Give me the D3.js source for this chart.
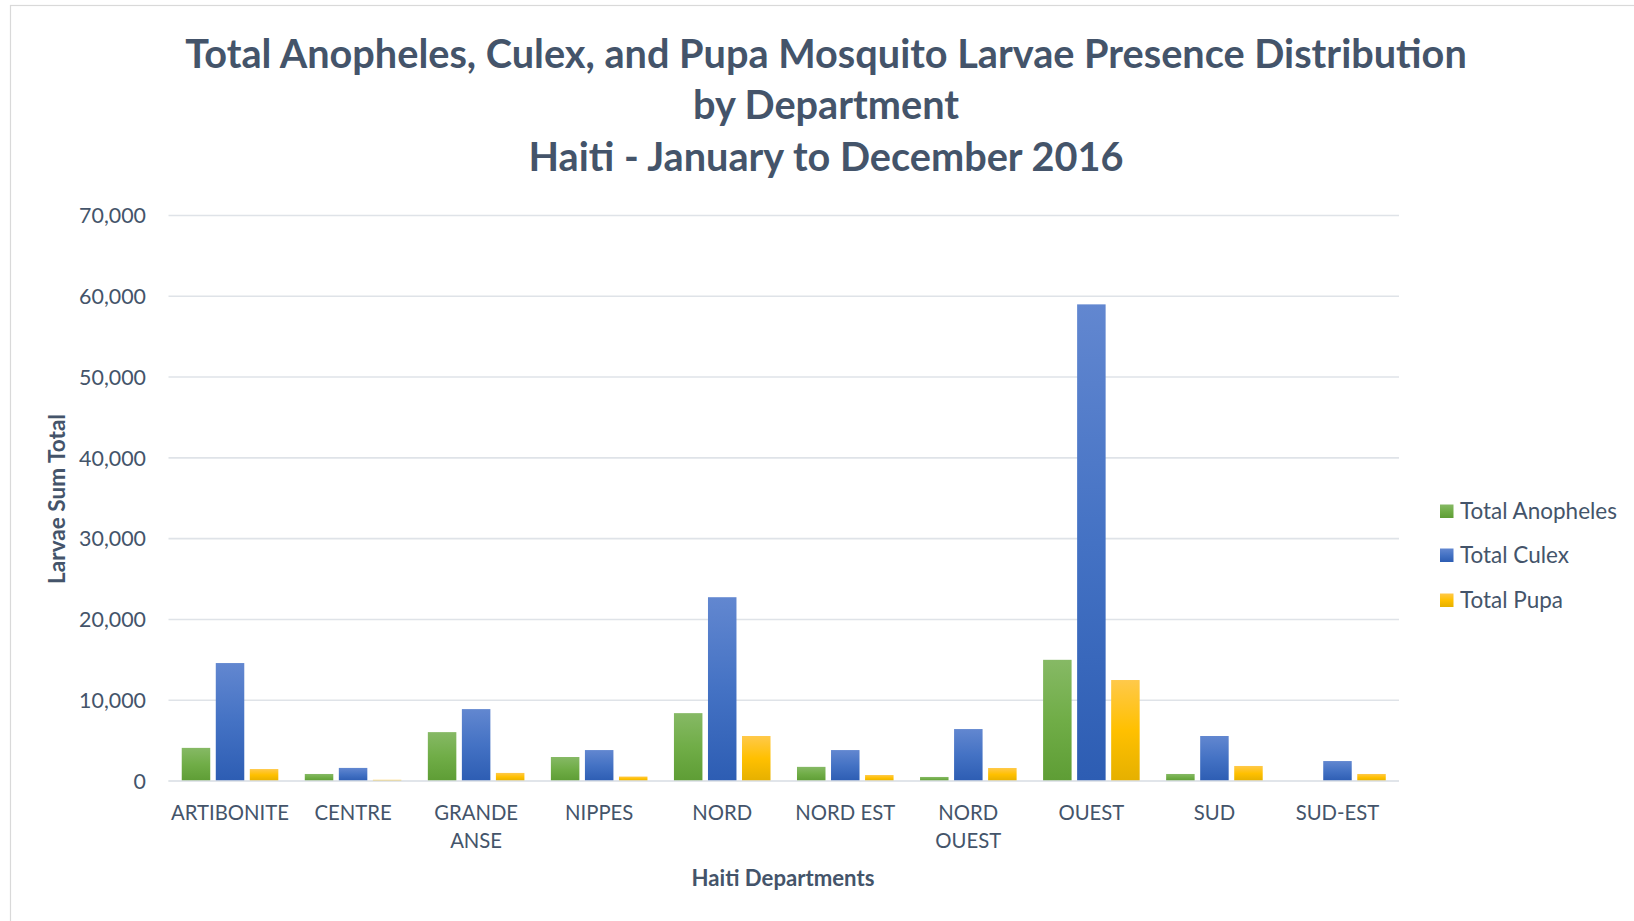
<!DOCTYPE html>
<html>
<head>
<meta charset="utf-8">
<script src="https://cdn.jsdelivr.net/npm/d3@7/dist/d3.min.js"></script>
<style>
  html, body { margin: 0; padding: 0; background: #fff; }
  svg { display: block; }
</style>
</head>
<body>
<svg id="chart" width="1634" height="921"></svg>
<script>
const categories = ["ARTIBONITE", "CENTRE", "GRANDE ANSE", "NIPPES", "NORD", "NORD EST", "NORD OUEST", "OUEST", "SUD", "SUD-EST"];
const seriesNames = ["Total Anopheles", "Total Culex", "Total Pupa"];
const anopheles = [4100, 870, 6050, 2970, 8400, 1750, 500, 15000, 870, 0];
const culex = [14600, 1620, 8900, 3830, 22750, 3830, 6430, 59000, 5570, 2470];
const pupa = [1480, 150, 1000, 550, 5570, 740, 1610, 12500, 1860, 870];
const yTicks = [0, 10000, 20000, 30000, 40000, 50000, 60000, 70000];
const titleLines = ["Total Anopheles, Culex, and Pupa Mosquito Larvae Presence Distribution", "by Department", "Haiti - January to December 2016"];

const seriesValues = [anopheles, culex, pupa];
const gradStops = [
  ["#86b965", "#70ad47", "#5e9d35"],
  ["#6287d0", "#4472c4", "#2d5db3"],
  ["#ffc94a", "#ffc000", "#e5b000"]
];
const FONT = "Lato, 'Open Sans', sans-serif";
const TEXT = "#44546A";

const svg = d3.select("#chart");
const W = 1634, H = 921;
const margin = {left: 168.5, right: 1399, top: 215.5, bottom: 781};

// border
svg.append("rect").attr("x", 10.5).attr("y", 5.5).attr("width", 1640).attr("height", 930)
  .attr("fill", "#fff").attr("stroke", "#d9d9d9").attr("stroke-width", 1.2);

// gradients
const defs = svg.append("defs");
gradStops.forEach((s, i) => {
  const g = defs.append("linearGradient").attr("id", "grad" + i)
    .attr("x1", 0).attr("y1", 0).attr("x2", 0).attr("y2", 1);
  g.append("stop").attr("offset", "0%").attr("stop-color", s[0]);
  g.append("stop").attr("offset", "50%").attr("stop-color", s[1]);
  g.append("stop").attr("offset", "100%").attr("stop-color", s[2]);
});

// fitting helper
function fit(sel, target) {
  const w = sel.node().getComputedTextLength();
  const fs = parseFloat(sel.attr("font-size"));
  return fs * target / w;
}

const x = d3.scaleBand().domain(categories).range([margin.left, margin.right]).paddingInner(0).paddingOuter(0);
const y = d3.scaleLinear().domain([0, 70000]).range([margin.bottom, margin.top]);
const bw = x.bandwidth();
const barW = bw * 0.2316;
const gap = bw * 0.045;
const groupW = 3 * barW + 2 * gap;

// gridlines
svg.append("g").selectAll("line").data(yTicks).join("line")
  .attr("x1", margin.left).attr("x2", margin.right)
  .attr("y1", d => y(d)).attr("y2", d => y(d))
  .attr("stroke", "#dfe3e8").attr("stroke-width", 1.6);

// bars
const gBars = svg.append("g");
categories.forEach((c, ci) => {
  const x0 = x(c) + (bw - groupW) / 2;
  seriesValues.forEach((vals, si) => {
    const v = vals[ci];
    if (v <= 0) return;
    gBars.append("rect")
      .attr("x", x0 + si * (barW + gap))
      .attr("y", y(v))
      .attr("width", barW)
      .attr("height", y(0) - y(v))
      .attr("fill", "url(#grad" + si + ")");
  });
});

// baseline
svg.append("line").attr("x1", margin.left).attr("x2", margin.right)
  .attr("y1", y(0)).attr("y2", y(0)).attr("stroke", "#dfe3e8").attr("stroke-width", 1.6);

// y axis labels
const tmpY = svg.append("text").attr("font-family", FONT).attr("font-size", 20).text("70,000");
const yFs = fit(tmpY, 67);
tmpY.remove();
const fmt = d3.format(",");
svg.append("g").selectAll("text").data(yTicks).join("text")
  .attr("x", 146).attr("y", d => y(d)).attr("dy", "0.36em")
  .attr("text-anchor", "end").attr("font-family", FONT).attr("font-size", yFs)
  .attr("fill", TEXT).text(d => fmt(d));

// x axis labels
const tmpX = svg.append("text").attr("font-family", FONT).attr("font-size", 20).text("ARTIBONITE");
const xFs = fit(tmpX, 118);
tmpX.remove();
const gX = svg.append("g");
categories.forEach(c => {
  const cx = x(c) + bw / 2;
  const t = gX.append("text").attr("x", cx).attr("y", 813).attr("dy", "0.36em")
    .attr("text-anchor", "middle").attr("font-family", FONT).attr("font-size", xFs)
    .attr("fill", TEXT).text(c);
  if (t.node().getComputedTextLength() > bw - 6 && c.includes(" ")) {
    const words = c.split(" ");
    t.text(null);
    words.forEach((w, i) => {
      t.append("tspan").attr("x", cx).attr("y", 813 + i * 28).attr("dy", "0.36em").text(w);
    });
  }
});

// axis titles
const xt = svg.append("text").attr("x", 783).attr("y", 878).attr("dy", "0.36em")
  .attr("text-anchor", "middle").attr("font-family", FONT).attr("font-weight", "bold")
  .attr("font-size", 20).attr("fill", TEXT).text("Haiti Departments");
xt.attr("font-size", fit(xt, 183));

const yt = svg.append("text").attr("transform", "translate(57,499) rotate(-90)").attr("dy", "0.36em")
  .attr("text-anchor", "middle").attr("font-family", FONT).attr("font-weight", "bold")
  .attr("font-size", 20).attr("fill", TEXT).text("Larvae Sum Total");
yt.attr("font-size", fit(yt, 170));

// title
const titleW = [1282, 266, 587];
const titleY = [54, 105, 157];
const tt = svg.append("text").attr("font-family", FONT).attr("font-weight", "bold").attr("font-size", 36).text(titleLines[0]);
const tFs = fit(tt, titleW[0]);
tt.remove();
titleLines.forEach((l, i) => {
  svg.append("text").attr("x", 826).attr("y", titleY[i]).attr("dy", "0.36em")
    .attr("text-anchor", "middle").attr("font-family", FONT).attr("font-weight", "bold")
    .attr("font-size", tFs).attr("fill", TEXT).text(l);
});

// legend
const tl = svg.append("text").attr("font-family", FONT).attr("font-size", 20).text(seriesNames[0]);
const lFs = fit(tl, 157);
tl.remove();
const legY = [511, 555, 600];
seriesNames.forEach((n, i) => {
  svg.append("rect").attr("x", 1440).attr("y", legY[i] - 6.5).attr("width", 13.5).attr("height", 13.5)
    .attr("fill", "url(#grad" + i + ")");
  svg.append("text").attr("x", 1460).attr("y", legY[i]).attr("dy", "0.36em")
    .attr("font-family", FONT).attr("font-size", lFs).attr("fill", TEXT).text(n);
});
</script>
</body>
</html>
